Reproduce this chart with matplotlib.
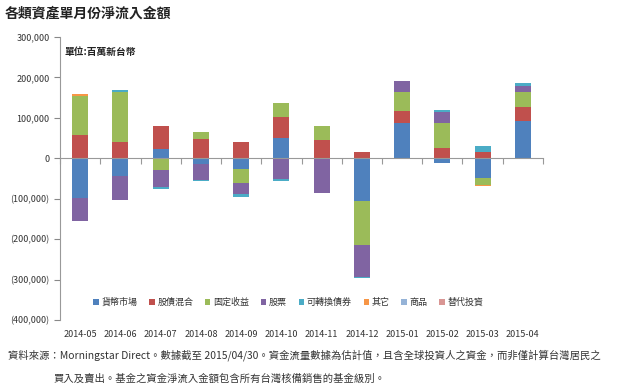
import numpy as np
import matplotlib
matplotlib.use("Agg")
from matplotlib import pyplot as plt
from matplotlib.ticker import FuncFormatter

plt.rcParams['font.family'] = ['Noto Sans CJK TC', 'DejaVu Sans']

months = ['2014-05', '2014-06', '2014-07', '2014-08', '2014-09', '2014-10',
          '2014-11', '2014-12', '2015-01', '2015-02', '2015-03', '2015-04']

# net flows per asset class, million TWD
money_market = [-98000, -45000, 24000, -15000, -26000, 50000, 0, -105000, 87000, -12000, -49000, 91000]
allocation = [57000, 41000, 56000, 48000, 40000, 53000, 45000, 16500, 29000, 26000, 16500, 37000]
fixed_income = [96000, 124000, -30000, 18000, -35000, 34000, 34000, -109000, 48000, 61000, -16500, 35000]
equity = [-58000, -59000, -41000, -39000, -28000, -52000, -86000, -80000, 27000, 27000, 0, 16500]
convertible = [0, 4000, -6000, -2500, -7000, -4000, 0, -2500, -3000, 6000, 13000, 6600]
other = [7000, 0, 0, 0, 0, 0, 0, 0, 0, 0, -2000, 0]
commodity = [0] * 12
alternative = [0] * 12

series_names = ['貨幣市場', '股債混合', '固定收益', '股票', '可轉換債券', '其它', '商品', '替代投資']
series_values = [money_market, allocation, fixed_income, equity, convertible, other, commodity, alternative]
colors = ['#4F81BD', '#C0504D', '#9BBB59', '#8064A2', '#4BACC6', '#F79646', '#95B3D7', '#D99694']

fig = plt.figure(figsize=(6.2, 3.92), dpi=100)
ax = fig.add_axes([0.0968, 0.1837, 0.779, 0.722])

x = np.arange(len(months))
pos = np.zeros(len(months))
neg = np.zeros(len(months))
for name, vals, c in zip(series_names, series_values, colors):
    v = np.array(vals, dtype=float)
    bottom = np.where(v >= 0, pos, neg)
    ax.bar(x, v, 0.4, bottom=bottom, color=c, label=name, linewidth=0)
    pos += np.clip(v, 0, None)
    neg += np.clip(v, None, 0)

ax.set_xlim(-0.5, len(months) - 0.5)
ax.set_ylim(-400000, 300000)
ax.set_yticks(np.arange(-400000, 300001, 100000))
ax.yaxis.set_major_formatter(FuncFormatter(
    lambda v, _: f'{v:,.0f}' if v >= 0 else f'({-v:,.0f})'))
ax.tick_params(axis='y', labelsize=6.5, colors='#888888', labelcolor='#333333',
               length=4, width=0.8)

for s in ['top', 'right']:
    ax.spines[s].set_visible(False)
ax.spines['left'].set_color('#999999')
ax.spines['bottom'].set_position(('data', 0))
ax.spines['bottom'].set_color('#999999')

# category boundary ticks on the zero line
ax.set_xticks(np.arange(-0.5, len(months), 1))
ax.set_xticklabels([])
ax.tick_params(axis='x', length=4, width=0.8, colors='#999999')

# month labels at the bottom of the plot area
sec = ax.secondary_xaxis('bottom')
sec.set_xticks(x, months)
sec.tick_params(length=0, labelsize=6.5, labelcolor='#333333', pad=7)
sec.spines['bottom'].set_visible(False)

ax.text(0.01, 0.965, '單位:百萬新台幣', transform=ax.transAxes, fontsize=7,
        fontweight='bold', va='top', color='#222222')

fig.legend(loc='center', bbox_to_anchor=(0.465, 0.228), ncol=8, frameon=False,
           fontsize=6.5, handlelength=0.6, handleheight=0.6, handletextpad=0.3,
           columnspacing=1.3, labelcolor='#333333')

fig.text(0.008, 0.965, '各類資產單月份淨流入金額', fontsize=10, fontweight='bold',
         va='center', color='#222222')

fig.text(0.013, 0.094, '資料來源：Morningstar Direct。數據截至 2015/04/30。資金流量數據為估計值，'
         '且含全球投資人之資金，而非僅計算台灣居民之', fontsize=7.45, va='center', color='#333333')
fig.text(0.086, 0.033, '買入及賣出。基金之資金淨流入金額包含所有台灣核備銷售的基金級別。',
         fontsize=7.45, va='center', color='#333333')

fig.savefig('out.png', dpi=100)
